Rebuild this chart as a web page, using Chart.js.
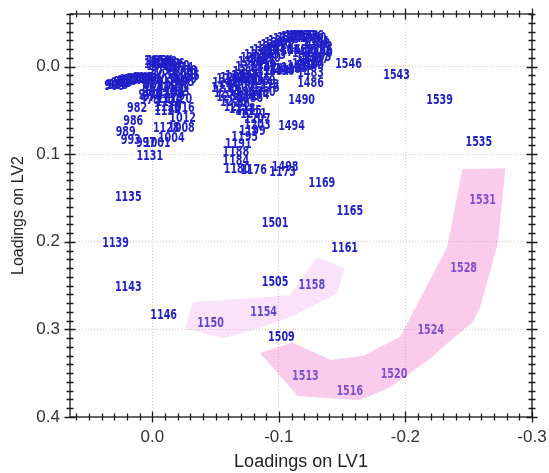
<!DOCTYPE html>
<html>
<head>
<meta charset="utf-8">
<script src="https://cdn.jsdelivr.net/npm/chart.js@4/dist/chart.umd.min.js"></script>
<style>
html,body{margin:0;padding:0;background:#fff}
#wrap{width:549px;height:473px}
</style>
</head>
<body>
<div id="wrap"><canvas id="c" width="549" height="473"></canvas></div>
<script>
// wavenumber labels and their loadings on LV1 (x) and LV2 (y)
const wavenumbers = [
  900,904,908,912,916,920,923,927,931,935,939,943,947,950,954,958,962,966,970,974,978,
  982,986,989,993,997,1001,1004,1008,1012,1016,1020,1023,1027,1031,1035,1039,1043,1047,1050,
  1054,1058,1062,1066,1070,1074,1078,1081,1085,1089,1093,1097,1101,1104,1108,1112,1116,1120,1124,1128,
  1131,1135,1139,1143,1146,1150,1154,1158,1161,1165,1169,1173,1176,1180,1184,1188,1191,1195,
  1199,1203,1207,1211,1215,1218,1222,1226,1230,1234,1238,1242,1246,1249,1253,1257,1261,1265,1269,1273,
  1276,1280,1284,1288,1292,1296,1300,1303,1307,1311,1315,1319,1323,1326,1330,1334,1338,1342,1346,1350,
  1353,1357,1361,1365,1369,1373,1376,1380,1384,1388,1392,1396,1400,1403,1407,1411,1415,1419,1423,1426,
  1430,1434,1438,1442,1446,1450,1453,1457,1461,1465,1469,1473,1476,1480,1483,1486,1490,1494,1498,
  1501,1505,1509,1513,1516,1520,1524,1528,1531,1535,1539,1543,1546
];
const lv1 = [
  0.030,0.029,0.027,0.025,0.023,0.020,0.018,0.015,0.013,0.011,0.008,0.006,0.004,0.001,0.000,-0.001,0.000,0.000,0.003,0.000,0.002,
  0.012,0.015,0.021,0.017,0.005,-0.004,-0.015,-0.023,-0.024,-0.023,-0.021,-0.019,-0.015,-0.012,-0.010,-0.008,-0.006,-0.004,-0.004,
  -0.006,-0.009,-0.012,-0.015,-0.019,-0.022,-0.025,-0.027,-0.027,-0.025,-0.023,-0.020,-0.018,-0.015,-0.014,-0.014,-0.013,-0.012,-0.012,-0.011,
  0.002,0.019,0.029,0.019,-0.009,-0.046,-0.088,-0.126,-0.152,-0.156,-0.134,-0.103,-0.080,-0.067,-0.066,-0.066,-0.068,-0.073,
  -0.079,-0.083,-0.083,-0.080,-0.076,-0.071,-0.067,-0.064,-0.061,-0.059,-0.057,-0.058,-0.061,-0.064,-0.068,-0.073,-0.078,-0.083,-0.087,-0.090,
  -0.090,-0.087,-0.082,-0.077,-0.073,-0.071,-0.070,-0.072,-0.074,-0.074,-0.076,-0.078,-0.080,-0.083,-0.087,-0.090,-0.093,-0.096,-0.099,-0.102,
  -0.106,-0.109,-0.112,-0.115,-0.118,-0.121,-0.125,-0.127,-0.129,-0.130,-0.132,-0.132,-0.132,-0.131,-0.129,-0.125,-0.121,-0.117,-0.112,-0.107,
  -0.102,-0.098,-0.093,-0.088,-0.087,-0.091,-0.095,-0.101,-0.106,-0.112,-0.117,-0.121,-0.124,-0.125,-0.125,-0.125,-0.118,-0.110,-0.105,
  -0.097,-0.097,-0.102,-0.121,-0.156,-0.191,-0.220,-0.246,-0.261,-0.258,-0.227,-0.193,-0.155
];
const lv2 = [
  0.023,0.022,0.021,0.019,0.018,0.017,0.016,0.016,0.015,0.015,0.014,0.014,0.015,0.016,0.018,0.022,0.025,0.029,0.033,0.035,0.039,
  0.048,0.062,0.075,0.084,0.088,0.088,0.082,0.071,0.059,0.048,0.038,0.030,0.023,0.016,0.010,0.005,0.000,-0.003,-0.006,
  -0.006,-0.005,-0.003,-0.002,0.000,0.002,0.005,0.008,0.011,0.015,0.018,0.022,0.025,0.029,0.032,0.037,0.041,0.046,0.051,0.071,
  0.103,0.149,0.202,0.252,0.284,0.293,0.281,0.250,0.208,0.165,0.133,0.121,0.119,0.117,0.108,0.098,0.089,0.081,
  0.074,0.067,0.060,0.055,0.051,0.049,0.046,0.041,0.035,0.031,0.025,0.019,0.015,0.013,0.011,0.011,0.013,0.015,0.017,0.021,
  0.025,0.030,0.033,0.036,0.034,0.030,0.024,0.018,0.014,0.007,0.001,-0.005,-0.009,-0.013,-0.016,-0.019,-0.022,-0.024,-0.026,-0.029,
  -0.031,-0.032,-0.033,-0.034,-0.035,-0.035,-0.034,-0.032,-0.028,-0.025,-0.022,-0.018,-0.015,-0.011,-0.008,-0.005,-0.002,0.000,0.002,0.003,
  0.005,0.005,0.003,0.001,-0.005,-0.009,-0.013,-0.016,-0.018,-0.019,-0.018,-0.015,-0.009,-0.001,0.008,0.019,0.039,0.068,0.115,
  0.179,0.246,0.309,0.354,0.371,0.351,0.301,0.230,0.153,0.086,0.039,0.010,-0.003
];

// shaded regions (outline vertices)
const paleX = [-0.032,-0.109,-0.130,-0.152,-0.146,-0.109,-0.085,-0.056,-0.026];
const paleY = [0.269,0.261,0.218,0.230,0.259,0.286,0.298,0.310,0.299];
const pinkX = [-0.245,-0.279,-0.273,-0.259,-0.253,-0.233,-0.220,-0.188,-0.164,-0.115,-0.085,-0.111,-0.141,-0.167,-0.196,-0.233];
const pinkY = [0.117,0.116,0.202,0.275,0.292,0.316,0.333,0.366,0.381,0.376,0.327,0.315,0.335,0.330,0.308,0.206];

const xTickValues = [0, -0.1, -0.2, -0.3];
const yTickValues = [0, 0.1, 0.2, 0.3, 0.4];

const points = lv1.map((x, i) => ({x, y: lv2[i]}));
const polygon = (xs, ys) => xs.map((x, i) => ({x, y: ys[i]})).concat([{x: xs[0], y: ys[0]}]);
const fmt = v => Math.abs(v) < 1e-9 ? '0.0' : v.toFixed(1);

// numbers drawn under the shaded regions
const labelText = {
  id: 'labelText',
  beforeDatasetsDraw(chart){
    const {ctx, chartArea: a} = chart;
    const meta = chart.getDatasetMeta(0);
    ctx.save();
    ctx.beginPath(); ctx.rect(a.left, a.top, a.right - a.left, a.bottom - a.top); ctx.clip();
    ctx.font = 'bold 14px "DejaVu Sans Condensed", "DejaVu Sans", sans-serif';
    ctx.fillStyle = '#2020c8';
    ctx.textAlign = 'center'; ctx.textBaseline = 'middle';
    meta.data.forEach((pt, i) => {
      ctx.save(); ctx.translate(pt.x, pt.y); ctx.scale(0.76, 1);
      ctx.fillText(String(wavenumbers[i]), 0, 0);
      ctx.restore();
    });
    ctx.restore();
  }
};

// box with crossing major/minor ticks on all four sides
const frame = {
  id: 'frame',
  afterDraw(chart){
    const {ctx, chartArea: a, scales: {x, y}} = chart;
    ctx.save();
    ctx.strokeStyle = '#1a1a1a'; ctx.lineWidth = 1.3;
    ctx.strokeRect(a.left, a.top, a.right - a.left, a.bottom - a.top);
    ctx.beginPath();
    for (let k = Math.ceil(x.min * 100 - 1e-6); k <= Math.floor(x.max * 100 + 1e-6); k++) {
      const px = Math.round(x.getPixelForValue(k / 100)) + 0.5, len = k % 10 === 0 ? 5.5 : 3.5;
      ctx.moveTo(px, a.bottom - len); ctx.lineTo(px, a.bottom + len);
      ctx.moveTo(px, a.top - len); ctx.lineTo(px, a.top + len);
    }
    for (let k = Math.ceil(y.min * 100 - 1e-6); k <= Math.floor(y.max * 100 + 1e-6); k++) {
      const py = Math.round(y.getPixelForValue(k / 100)) + 0.5, len = k % 10 === 0 ? 5.5 : 3.5;
      ctx.moveTo(a.left - len, py); ctx.lineTo(a.left + len, py);
      ctx.moveTo(a.right - len, py); ctx.lineTo(a.right + len, py);
    }
    ctx.stroke();
    ctx.restore();
  }
};

const tickFont = {family: '"Liberation Sans", Arial, sans-serif', size: 17};

new Chart(document.getElementById('c'), {
  type: 'scatter',
  data: {
    datasets: [
      {data: points, pointRadius: 0, showLine: false},
      {data: polygon(paleX, paleY), showLine: true, fill: 'shape', pointRadius: 0,
       borderWidth: 0, borderColor: 'transparent', backgroundColor: 'rgba(240,160,240,0.3)'},
      {data: polygon(pinkX, pinkY), showLine: true, fill: 'shape', pointRadius: 0,
       borderWidth: 0, borderColor: 'transparent', backgroundColor: 'rgba(245,140,210,0.45)'}
    ]
  },
  options: {
    responsive: false,
    animation: false,
    events: [],
    layout: {padding: {top: 14, right: 17, left: 0, bottom: 0}},
    plugins: {legend: {display: false}, tooltip: {enabled: false}},
    scales: {
      x: {
        type: 'linear', reverse: true, min: -0.3, max: 0.065,
        afterBuildTicks: s => { s.ticks = xTickValues.map(v => ({value: v})); },
        afterFit: s => { s.height = 56; },
        ticks: {padding: 0, color: '#333', font: tickFont, callback: v => fmt(v), maxRotation: 0, autoSkip: false},
        grid: {color: '#c8c8c8', lineWidth: 1, drawTicks: true, tickLength: 10, tickColor: 'transparent'},
        border: {display: false, dash: [1, 2]},
        title: {display: true, text: 'Loadings on LV1', color: '#222', padding: {top: 0, bottom: 0},
                font: {family: '"Liberation Sans", Arial, sans-serif', size: 18}}
      },
      y: {
        type: 'linear', reverse: true, min: -0.06, max: 0.4,
        afterBuildTicks: s => { s.ticks = yTickValues.map(v => ({value: v})); },
        afterFit: s => { s.width = 70; },
        ticks: {padding: 0, color: '#333', font: tickFont, callback: v => fmt(v)},
        grid: {color: '#c8c8c8', lineWidth: 1, drawTicks: true, tickLength: 10, tickColor: 'transparent'},
        border: {display: false, dash: [1, 2]},
        title: {display: true, text: 'Loadings on LV2', color: '#222', padding: {top: 9, bottom: 0},
                font: {family: '"Liberation Sans", Arial, sans-serif', size: 16}}
      }
    }
  },
  plugins: [labelText, frame]
});
</script>
</body>
</html>
